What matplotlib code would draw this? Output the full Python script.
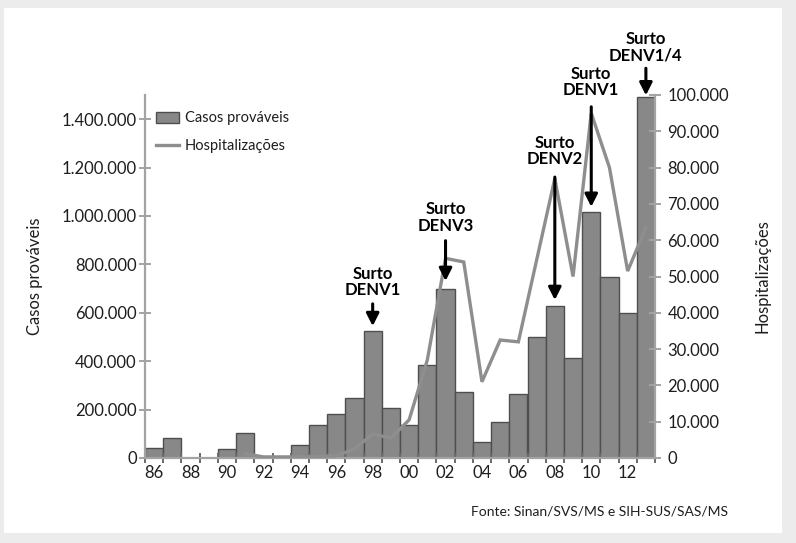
#!/usr/bin/env python3
"""Casos prováveis de dengue e hospitalizações, Brasil 1986-2013."""

import matplotlib

matplotlib.use("Agg")
import matplotlib.pyplot as plt
from matplotlib.patches import Rectangle
from matplotlib.ticker import FuncFormatter, FixedLocator
import numpy as np

plt.rcParams["font.family"] = ["Lato", "DejaVu Sans"]

years = list(range(1986, 2014))
year_labels = [f"{y % 100:02d}" for y in years]

casos = [40000, 84000, 1500, 500, 36000, 102000, 2000, 1000, 54000, 136000,
         182000, 246000, 525000, 208000, 136000, 386000, 700000, 272000,
         67000, 148000, 264000, 499000, 630000, 412000, 1015000, 748000,
         600000, 1490000]

hospitalizacoes = [np.nan, np.nan, np.nan, np.nan, np.nan,
                   1200, 300, 300, 300, 400, 600, 2500, 6600, 5500, 10500,
                   27000, 55000, 54000, 21000, 32500, 32000, 54500, 77000,
                   50000, 95000, 80000, 51500, 63500]

# (year, label, arrow tip gap, arrow start, text bottom) offsets in points above bar top
surtos = [
    (1998, "Surto\nDENV1", 3.5, 19.5, 23.5),
    (2002, "Surto\nDENV3", 5.5, 34.5, 39.5),
    (2008, "Surto\nDENV2", 4.0, 92.5, 99.5),
    (2010, "Surto\nDENV1", 4.0, 76.0, 82.0),
    (2013, "Surto\nDENV1/4", 1.5, 21.0, 24.5),
]

BAR_COLOR = "#888888"
BAR_EDGE = "#4f4f4f"
LINE_COLOR = "#8e8e8e"
SPINE_COLOR = "#a3a3a3"
TEXT_COLOR = "#1e1e1e"


def dotted(v, _pos=None):
    return f"{int(round(v)):,}".replace(",", ".")


fig = plt.figure(figsize=(7.96, 5.43), dpi=100, facecolor="#ececec")
fig.patches.append(Rectangle((4 / 796, 10 / 543), 778 / 796, 525 / 543,
                             transform=fig.transFigure, facecolor="white",
                             edgecolor="none", zorder=-10))

ax = fig.add_axes([145 / 796, 85 / 543, 510 / 796, 363 / 543])
ax.set_facecolor("none")
x = np.arange(len(years))

ax.bar(x, casos, width=1.0, color=BAR_COLOR, edgecolor=BAR_EDGE,
       linewidth=1.0, label="Casos prováveis")
ax.set_xlim(-0.5, len(years) - 0.5)
ax.set_ylim(0, 1500000)
ax.set_yticks(np.arange(0, 1400001, 200000))
ax.yaxis.set_major_formatter(FuncFormatter(dotted))
ax.set_xticks(x[::2])
ax.set_xticklabels(year_labels[::2])
ax.xaxis.set_minor_locator(FixedLocator(np.arange(-0.5, len(years), 1.0)))

for side in ["top", "right"]:
    ax.spines[side].set_visible(False)
for side in ["left", "bottom"]:
    ax.spines[side].set_color(SPINE_COLOR)
    ax.spines[side].set_linewidth(1.6)

ax.tick_params(axis="y", direction="inout", length=9, width=1.4,
               color=SPINE_COLOR, labelsize=12, labelcolor=TEXT_COLOR, pad=1.5)
ax.tick_params(axis="x", which="major", length=0, labelsize=12,
               labelcolor=TEXT_COLOR, pad=5)
ax.tick_params(axis="x", which="minor", direction="inout", length=6.5,
               width=1.4, color="#6a6a6a")
ax.set_ylabel("Casos prováveis", fontsize=12, color=TEXT_COLOR, labelpad=13)

ax2 = ax.twinx()
ax2.plot(x, hospitalizacoes, color=LINE_COLOR, linewidth=2.4,
         solid_joinstyle="miter", label="Hospitalizações")
ax2.set_ylim(0, 100000)
ax2.set_yticks(np.arange(0, 100001, 10000))
ax2.yaxis.set_major_formatter(FuncFormatter(dotted))
for side in ["top", "left", "bottom"]:
    ax2.spines[side].set_visible(False)
ax2.spines["right"].set_color(SPINE_COLOR)
ax2.spines["right"].set_linewidth(1.6)
ax2.tick_params(axis="y", direction="inout", length=9, width=1.4,
                color=SPINE_COLOR, labelsize=12, labelcolor=TEXT_COLOR, pad=4.5)
ax2.set_ylabel("Hospitalizações", fontsize=12, color=TEXT_COLOR, labelpad=18)

for year, label, tip, start, text_y in surtos:
    i = years.index(year)
    v = casos[i]
    ax2.annotate("", xy=(i, v / 15), xytext=(0, start), textcoords="offset points",
                 arrowprops=dict(arrowstyle="-|>,head_length=0.75,head_width=0.38",
                                 color="black", lw=2.2, shrinkA=0, shrinkB=tip),
                 annotation_clip=False)
    ax2.annotate(label, xy=(i, v / 15), xytext=(0, text_y), textcoords="offset points",
                 ha="center", va="bottom", fontsize=12, fontweight="bold",
                 color="black", linespacing=1.05, annotation_clip=False)

h1, l1 = ax.get_legend_handles_labels()
h2, l2 = ax2.get_legend_handles_labels()
ax2.legend(h1 + h2, l1 + l2, loc="upper left", bbox_to_anchor=(0.022, 0.955),
           frameon=False, fontsize=10.5, borderpad=0, borderaxespad=0,
           handlelength=1.55, handleheight=0.75, handletextpad=0.4,
           labelspacing=0.95, labelcolor=TEXT_COLOR)

fig.text(728 / 796, (543 - 512) / 543, "Fonte: Sinan/SVS/MS e SIH-SUS/SAS/MS",
         ha="right", va="center", fontsize=10, color=TEXT_COLOR)

fig.savefig("out.png", dpi=100, facecolor=fig.get_facecolor())
plt.close(fig)
